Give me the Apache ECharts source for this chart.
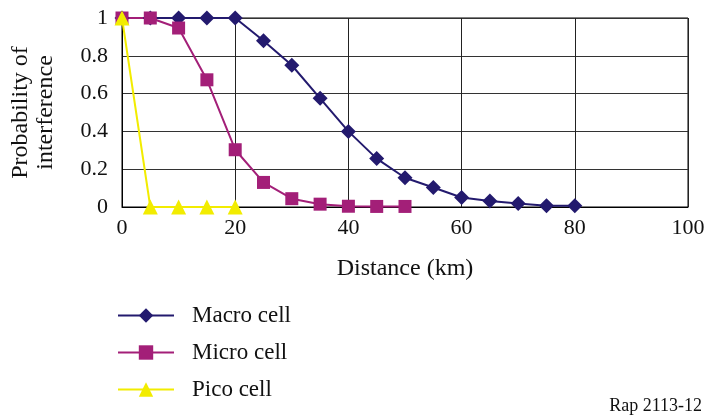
<!DOCTYPE html>
<html>
<head>
<meta charset="utf-8">
<script src="https://cdn.jsdelivr.net/npm/echarts@6/dist/echarts.min.js"></script>
<style>
html,body{margin:0;padding:0;background:#fff;}
#c{width:709px;height:417px;}
</style>
</head>
<body>
<div id="c"></div>
<script>
const macroX = [0,5,10,15,20,25,30,35,40,45,50,55,60,65,70,75,80];
const macroY = [1,1,1,1,1,0.88,0.75,0.575,0.40,0.256,0.155,0.103,0.05,0.032,0.018,0.006,0.006];
const microX = [0,5,10,15,20,25,30,35,40,45,50];
const microY = [1,1,0.947,0.673,0.303,0.13,0.044,0.015,0.004,0.003,0.003];
const picoX = [0,5,10,15,20];
const picoY = [1,0,0,0,0];
const seriesNames = ['Macro cell','Micro cell','Pico cell'];
const xTicks = [0,20,40,60,80,100];
const yTicks = [0,0.2,0.4,0.6,0.8,1];

const FONT = '"Liberation Serif","Times New Roman",serif';
const pair = (xs, ys) => xs.map((x,i)=>[x, ys[i]]);

const chart = echarts.init(document.getElementById('c'), null, {renderer:'canvas'});
chart.setOption({
  animation:false,
  backgroundColor:'#fff',
  textStyle:{fontFamily:FONT},
  grid:{left:121, right:21, top:18, bottom:210, show:true, borderColor:'#000', borderWidth:1, containLabel:false},
  xAxis:{
    type:'value', min:0, max:100, interval:20,
    name:'Distance (km)', nameLocation:'middle', nameGap:50,
    nameTextStyle:{fontFamily:FONT, fontSize:24, color:'#111'},
    axisLine:{show:true, lineStyle:{color:'#000', width:1}},
    axisTick:{show:false},
    axisLabel:{fontFamily:FONT, fontSize:22, color:'#111', margin:10,
      formatter:v=> xTicks.includes(v) ? String(v) : ''},
    splitLine:{show:true, lineStyle:{color:'#222', width:1}}
  },
  yAxis:{
    type:'value', min:0, max:1, interval:0.2,
    name:'Probability of\ninterference', nameLocation:'middle', nameGap:64, nameRotate:90,
    nameTextStyle:{fontFamily:FONT, fontSize:24, color:'#111', lineHeight:25},
    axisLine:{show:true, lineStyle:{color:'#000', width:1}},
    axisTick:{show:false},
    axisLabel:{fontFamily:FONT, fontSize:22, color:'#111', margin:14,
      formatter:v=>{ const t = yTicks.find(k=>Math.abs(k-v)<1e-9); return t===undefined?'':String(t); }},
    splitLine:{show:true, lineStyle:{color:'#333', width:1}}
  },
  legend:{
    orient:'vertical', left:117, top:304, height:113, padding:0,
    itemWidth:56, itemHeight:18, itemGap:14,
    textStyle:{fontFamily:FONT, fontSize:23, color:'#111', padding:[0,0,0,13]},
    data:seriesNames
  },
  graphic:[{
    type:'text', right:7, top:397,
    style:{text:'Rap 2113-12', font:'18px '+FONT, fill:'#111'}
  }],
  series:[
    {name:seriesNames[0], type:'line', data:pair(macroX, macroY), symbol:'diamond', symbolSize:15,
      lineStyle:{color:'#231a6e', width:2}, itemStyle:{color:'#231a6e'}},
    {name:seriesNames[1], type:'line', data:pair(microX, microY), symbol:'rect', symbolSize:13,
      lineStyle:{color:'#a31f78', width:2}, itemStyle:{color:'#a31f78'}},
    {name:seriesNames[2], type:'line', data:pair(picoX, picoY), symbol:'triangle', symbolSize:15,
      lineStyle:{color:'#f2ec00', width:2}, itemStyle:{color:'#f2ec00'}}
  ]
});
</script>
</body>
</html>
